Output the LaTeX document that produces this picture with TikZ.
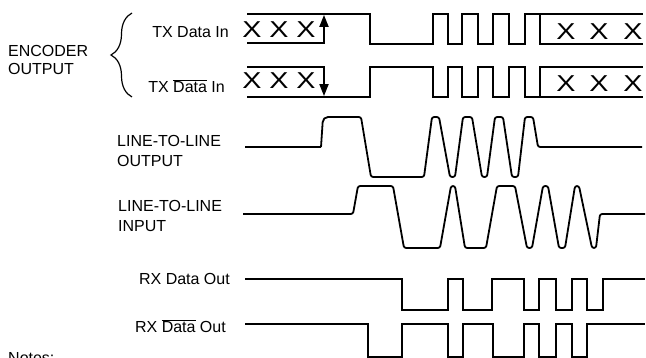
\documentclass[tikz,border=0pt]{standalone}
\usepackage{graphicx}
\usepackage{fontspec}
\setmainfont{Liberation Sans}
\usetikzlibrary{arrows.meta,decorations.pathreplacing}
\newcommand{\ovbar}[1]{$\overline{\hbox{#1}}$}
\newcommand{\wideX}{\scalebox{1.25}[1]{X}}
\begin{document}
\begin{tikzpicture}[x=1pt,y=-1pt,
  wave/.style={line width=1.8pt, line join=miter, line cap=butt},
  soft/.style={wave, rounded corners=2.2pt, line join=round},
  lab/.style={font=\fontsize{16}{19}\selectfont, inner sep=0pt},
  bigx/.style={font=\fontsize{23}{23}\selectfont, inner sep=0pt, anchor=base},
  tip/.style={-{Triangle[width=9pt,length=12pt]}}]
\useasboundingbox (0,0) rectangle (646,358);

% labels
\node[lab, anchor=base west] (enc1) at (8,57) {ENCODER};
\node[lab, anchor=base west] (enc2) at (8,75) {OUTPUT};
\node[lab, anchor=base east] (txin) at (229,37.5) {TX Data In};
\node[lab, anchor=base east] (txbin) at (225,93) {TX \ovbar{Data} In};
\node[lab, anchor=base west] (llo1) at (117,147) {LINE-TO-LINE};
\node[lab, anchor=base west] (llo2) at (117,167) {OUTPUT};
\node[lab, anchor=base west] (lli1) at (118,212) {LINE-TO-LINE};
\node[lab, anchor=base west] (lli2) at (118,232) {INPUT};
\node[lab, anchor=base east] (rxo) at (230,285) {RX Data Out};
\node[lab, anchor=base east] (rxbo) at (226,333) {RX \ovbar{Data} Out};
\node[lab, anchor=base west] (notes) at (8,363.5) {Notes:};

% brace
\draw[line width=1.2pt, decorate, decoration={brace, amplitude=21pt}]
  (132,97) -- (132,13);

% X marks
\node[bigx] (xa1) at (252,38) {\wideX};
\node[bigx] (xa2) at (279,38) {\wideX};
\node[bigx] (xa3) at (306,38) {\wideX};
\node[bigx] (xb1) at (252,88.5) {\wideX};
\node[bigx] (xb2) at (279,88.5) {\wideX};
\node[bigx] (xb3) at (306,88.5) {\wideX};
\node[bigx] (xc1) at (566,40) {\wideX};
\node[bigx] (xc2) at (599,40) {\wideX};
\node[bigx] (xc3) at (633,40) {\wideX};
\node[bigx] (xd1) at (566,92) {\wideX};
\node[bigx] (xd2) at (599,92) {\wideX};
\node[bigx] (xd3) at (633,92) {\wideX};

% TX Data In
\draw[wave, tip] (247,43) -- (324,43) -- (324,14.9);
\draw[wave] (247,14) -- (370,14) -- (370,44) -- (433,44) -- (433,14) -- (448,14)
  -- (448,44) -- (462,44) -- (462,14) -- (478,14) -- (478,44) -- (493,44)
  -- (493,14) -- (509,14) -- (509,44) -- (525,44) -- (525,14) -- (643,14);
\draw[wave] (540,14) -- (540,44) -- (643,44);

% TX Data-bar In
\draw[wave, tip] (247,67) -- (324,67) -- (324,96.1);
\draw[wave] (247,97) -- (370,97) -- (370,67) -- (433,67) -- (433,97) -- (448,97)
  -- (448,67) -- (462,67) -- (462,97) -- (478,97) -- (478,67) -- (493,67)
  -- (493,97) -- (509,97) -- (509,67) -- (525,67) -- (525,97) -- (643,97);
\draw[wave] (540,97) -- (540,67) -- (643,67);

% Line-to-line output
\draw[soft] (245,147) -- (321,147);
\draw[wave, rounded corners=5pt, line join=round] (321,147) -- (323,117) -- (345,117);
\draw[soft] (340,117) -- (361,117) -- (371,177)
  -- (424,177) -- (432,117) -- (439,117) -- (450,177) -- (455,177)
  -- (463,117) -- (472,117) -- (482,177) -- (487,177) -- (495,117)
  -- (503,117) -- (512,177) -- (518,177) -- (525,117) -- (533,117)
  -- (538,147) -- (642,147);

% Line-to-line input
\draw[soft] (243,214) -- (353,214) -- (358,186) -- (393,186) -- (404,248)
  -- (440,248) -- (451,186) -- (455,186) -- (465,248) -- (486,248)
  -- (497,186) -- (515,186) -- (527,248) -- (532,248) -- (543,186)
  -- (548,186) -- (559,248) -- (565,248) -- (575,186) -- (579,186)
  -- (592,248) -- (596,248) -- (600,214) -- (645,214);

% RX Data Out
\draw[wave] (245,279) -- (402,279) -- (402,310) -- (448,310) -- (448,279)
  -- (463,279) -- (463,310) -- (492,310) -- (492,279) -- (524,279)
  -- (524,310) -- (539,310) -- (539,279) -- (556,279) -- (556,310)
  -- (572,310) -- (572,279) -- (587,279) -- (587,310) -- (603,310)
  -- (603,279) -- (645,279);

% RX Data-bar Out
\draw[wave] (245,324) -- (368,324) -- (368,357) -- (402,357) -- (402,324)
  -- (448,324) -- (448,357) -- (463,357) -- (463,324) -- (493,324)
  -- (493,357) -- (524,357) -- (524,324) -- (539,324) -- (539,357)
  -- (556,357) -- (556,324) -- (572,324) -- (572,357) -- (587,357)
  -- (587,324) -- (645,324);
\end{tikzpicture}
\end{document}
